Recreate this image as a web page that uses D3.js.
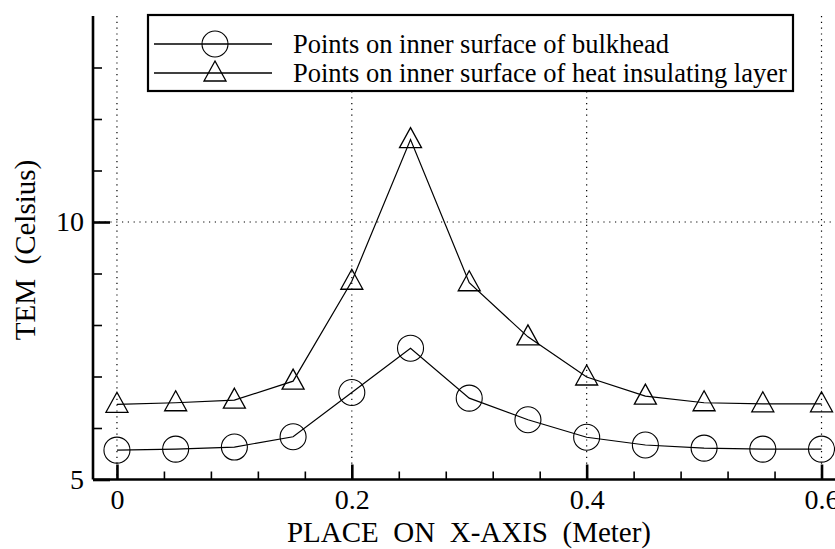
<!DOCTYPE html>
<html>
<head>
<meta charset="utf-8">
<script src="https://cdn.jsdelivr.net/npm/d3@7"></script>
<style>
  html, body { margin: 0; padding: 0; background: #fff; }
  svg { display: block; }
  svg text { font-family: "Liberation Serif", "DejaVu Serif", serif !important; fill: #000; }
</style>
</head>
<body>
<svg id="chart" width="835" height="549"></svg>
<script>
// ---- data ----
const xValues = [0, 0.05, 0.1, 0.15, 0.2, 0.25, 0.3, 0.35, 0.4, 0.45, 0.5, 0.55, 0.6];
const bulkhead = [5.57, 5.59, 5.63, 5.83, 6.69, 7.55, 6.58, 6.16, 5.82, 5.67, 5.61, 5.59, 5.59];
const insulating = [6.46, 6.49, 6.54, 6.91, 8.85, 11.6, 8.82, 7.77, 6.99, 6.62, 6.49, 6.47, 6.47];
const seriesNames = ["Points on inner surface of bulkhead", "Points on inner surface of heat insulating layer"];
const xTickValues = [0, 0.2, 0.4, 0.6];
const xMinorTicks = [0.04, 0.08, 0.12, 0.16, 0.24, 0.28, 0.32, 0.36, 0.44, 0.48, 0.52, 0.56];
const yTickValues = [5, 10];
const yMinorTicks = [6, 7, 8, 9, 11, 12, 13];
const xTitle = "PLACE  ON  X-AXIS  (Meter)";
const yTitle = "TEM  (Celsius)";

(function () {
// ---- layout ----
const svg = d3.select("#chart");
const plotLeft = 93, plotBottom = 479.5, plotTop = 16, plotRight = 845;
const x = d3.scaleLinear().domain([-0.0204, 0.62]).range([plotLeft, plotRight]);
const y = d3.scaleLinear().domain([5, 14]).range([plotBottom, plotTop]);

// grid
const grid = svg.append("g").attr("stroke", "#000").attr("stroke-width", 1.2)
  .attr("stroke-dasharray", "1.2,4.6").attr("fill", "none");
xTickValues.forEach(v => grid.append("line")
  .attr("x1", x(v)).attr("x2", x(v)).attr("y1", y(14)).attr("y2", plotBottom));
yTickValues.filter(v => v > 5).forEach(v => grid.append("line")
  .attr("x1", plotLeft).attr("x2", 835).attr("y1", y(v)).attr("y2", y(v)));

// axes
const xAxis = d3.axisBottom(x).tickValues(xTickValues).tickSize(-15).tickPadding(10)
  .tickFormat(d => d === 0 ? "0" : d3.format(".1f")(d));
const gx = svg.append("g").attr("transform", `translate(0,${plotBottom})`).call(xAxis);
const xMinor = d3.axisBottom(x).tickValues(xMinorTicks).tickSize(-8).tickFormat("");
const gxm = svg.append("g").attr("transform", `translate(0,${plotBottom})`).call(xMinor);
gxm.select(".domain").remove();

const yAxis = d3.axisLeft(y).tickValues(yTickValues).tickSize(-17).tickPadding(9).tickFormat(d3.format("d"));
const gy = svg.append("g").attr("transform", `translate(${plotLeft},0)`).call(yAxis);
const yMinor = d3.axisLeft(y).tickValues(yMinorTicks).tickSize(-9).tickFormat("");
const gym = svg.append("g").attr("transform", `translate(${plotLeft},0)`).call(yMinor);
gym.select(".domain").remove();

[gx, gy].forEach(g => {
  g.attr("font-family", null);
  g.select(".domain").attr("stroke", "#000").attr("stroke-width", 2.6);
  g.selectAll(".tick line").attr("stroke", "#000").attr("stroke-width", 2.6);
  g.selectAll(".tick text").attr("font-size", 28);
});
[gxm, gym].forEach(g => g.selectAll(".tick line").attr("stroke", "#000").attr("stroke-width", 1.6));
gx.select(".domain").attr("d", `M${plotLeft},0H835`);
gy.select(".domain").attr("d", `M0,${plotTop}V${plotBottom}`);

// axis titles
svg.append("text").attr("x", 469).attr("y", 542).attr("text-anchor", "middle")
  .attr("font-size", 29).style("white-space", "pre").text(xTitle);
svg.append("text").attr("transform", "translate(35,250) rotate(-90)").attr("text-anchor", "middle")
  .attr("font-size", 29).style("white-space", "pre").text(yTitle);

// series
const line = d3.line().x((d, i) => x(xValues[i])).y(d => y(d));
const circleR = 13;
const triPath = (cx, cy) => `M${cx},${cy - 12}L${cx + 11},${cy + 8}L${cx - 11},${cy + 8}Z`;

svg.append("path").datum(bulkhead).attr("d", line).attr("fill", "none").attr("stroke", "#000").attr("stroke-width", 1.2);
svg.append("path").datum(insulating).attr("d", line).attr("fill", "none").attr("stroke", "#000").attr("stroke-width", 1.2);

svg.append("g").selectAll("circle").data(bulkhead).join("circle")
  .attr("cx", (d, i) => x(xValues[i])).attr("cy", d => y(d)).attr("r", circleR)
  .attr("fill", "none").attr("stroke", "#000").attr("stroke-width", 1.1);
svg.append("g").selectAll("path").data(insulating).join("path")
  .attr("d", (d, i) => triPath(x(xValues[i]), y(d)))
  .attr("fill", "none").attr("stroke", "#000").attr("stroke-width", 1.3);

// legend
const lg = svg.append("g");
lg.append("rect").attr("x", 148).attr("y", 15).attr("width", 645).attr("height", 76)
  .attr("fill", "#fff").attr("stroke", "#000").attr("stroke-width", 2.2);
const rows = [44, 73];
seriesNames.forEach((name, i) => {
  const ry = rows[i];
  lg.append("line").attr("x1", 154).attr("x2", 272).attr("y1", ry).attr("y2", ry)
    .attr("stroke", "#000").attr("stroke-width", 1.3);
  if (i === 0) {
    lg.append("circle").attr("cx", 215).attr("cy", ry).attr("r", circleR)
      .attr("fill", "none").attr("stroke", "#000").attr("stroke-width", 1.1);
  } else {
    lg.append("path").attr("d", triPath(215, ry)).attr("fill", "none").attr("stroke", "#000").attr("stroke-width", 1.3);
  }
  lg.append("text").attr("x", 293).attr("y", ry + 9).attr("font-size", 26.5).text(name);
});
})();
</script>
</body>
</html>
